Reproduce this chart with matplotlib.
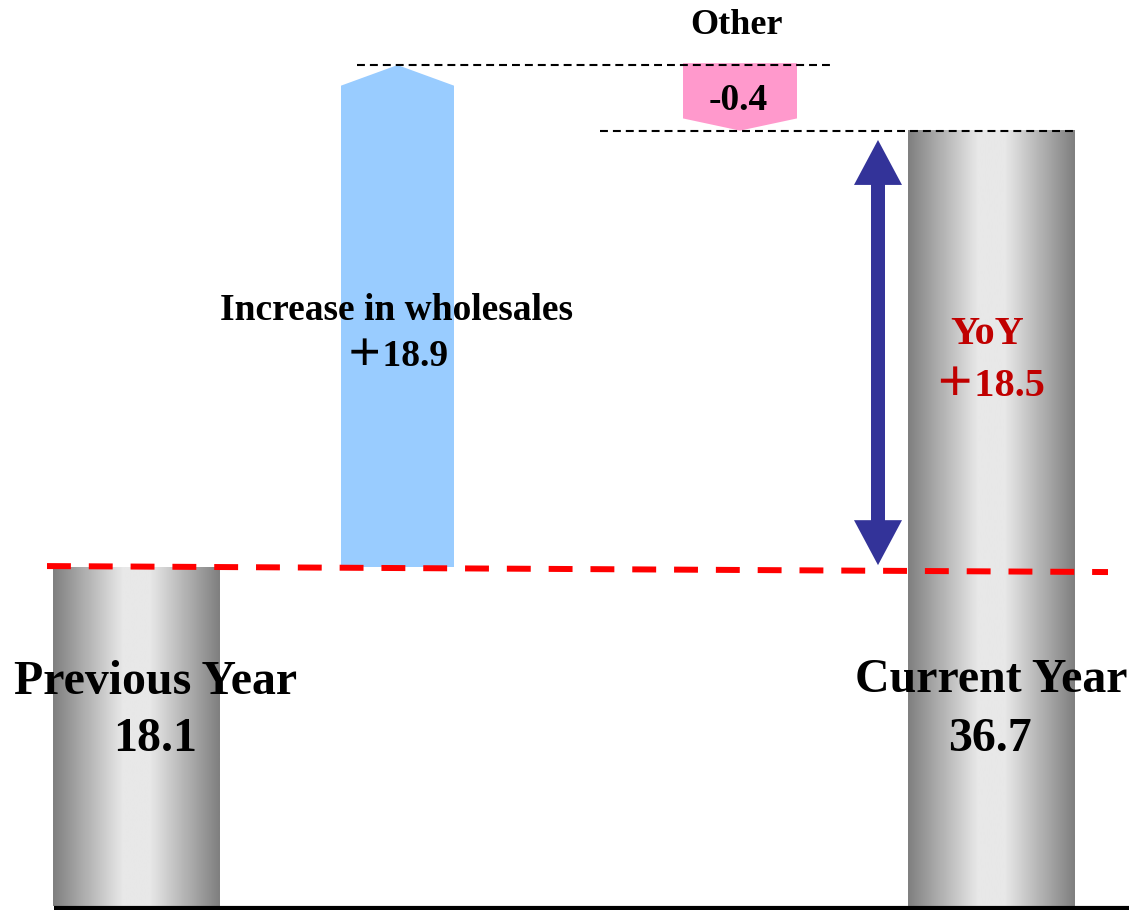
import numpy as np
import matplotlib
matplotlib.use("Agg")
import matplotlib.pyplot as plt
from matplotlib.patches import Polygon

# values shown on the chart
prev_value = 18.1
wholesale_change = 18.9
other_change = -0.4
current_value = 36.7
yoy_change = 18.5

# the picture is schematic, so the drawn heights are read off it
# (in the units of the previous-year bar)
drawn_peak = 44.9      # tip of the wholesale arrow / top dashed line
drawn_current = 41.4   # top of current-year bar / tip of "Other"

# layout (pixels of a 1129x910 canvas)
W, H = 1129, 910
BASE_PX = 906
SCALE = (BASE_PX - 567) / prev_value   # px per unit

fonts = ["Liberation Serif", "Noto Sans CJK JP", "DejaVu Serif"]

fig = plt.figure(figsize=(W / 100, H / 100), dpi=100)
ax = fig.add_axes([0, 0, 1, 1])
ax.set_xlim(0, W)
ax.set_ylim(-(H - BASE_PX) / SCALE, BASE_PX / SCALE)
ax.axis("off")

# gray cylinder-like gradient for the two totals
t = np.linspace(0, 1, 256)
shade = np.interp(t, [0, 0.42, 0.58, 1], [0.50, 0.91, 0.91, 0.50])
grad = shade[np.newaxis, :]
for x0, x1, top in [(53, 220, prev_value), (908, 1075, drawn_current)]:
    ax.imshow(grad, cmap="gray", vmin=0, vmax=1, aspect="auto",
              extent=[x0, x1, 0, top], zorder=2, interpolation="bilinear")

# wholesale increase arrow (blue, pointing up)
bx0, bx1 = 341, 454
blue = Polygon([(bx0, prev_value), (bx0, drawn_peak - 1.1),
                ((bx0 + bx1) / 2, drawn_peak), (bx1, drawn_peak - 1.1),
                (bx1, prev_value)], closed=True, color="#99ccff", lw=0, zorder=2)
ax.add_patch(blue)

# other change (pink, pointing down)
px0, px1 = 683, 797
pink = Polygon([(px0, drawn_peak + 0.1), (px1, drawn_peak + 0.1),
                (px1, drawn_current + 0.65), ((px0 + px1) / 2, drawn_current),
                (px0, drawn_current + 0.65)], closed=True, color="#ff99cc",
               lw=0, zorder=2)
ax.add_patch(pink)

# black dashed guide lines
ax.plot([357, 833], [drawn_peak, drawn_peak], color="black", lw=1.5,
        dashes=(3.8, 2.4), zorder=3)
ax.plot([600, 1075], [drawn_current, drawn_current], color="black", lw=1.5,
        dashes=(3.8, 2.4), zorder=3)

# red dashed line at previous-year level
ax.plot([47, 1108], [prev_value + 0.05, prev_value - 0.27], color="red",
        lw=4.3, dashes=(4.0, 3.0), zorder=4)

# baseline
ax.plot([54, W], [-2 / SCALE, -2 / SCALE], color="black", lw=3, zorder=5,
        solid_capstyle="butt")

# YoY double arrow, one polygon
ax_x = 878
y_lo, y_hi = prev_value + 0.1, drawn_current - 0.5
half_shaft, half_head, head_len = 7, 24, 2.4
ax.add_patch(Polygon([
    (ax_x, y_hi), (ax_x + half_head, y_hi - head_len),
    (ax_x + half_shaft, y_hi - head_len), (ax_x + half_shaft, y_lo + head_len),
    (ax_x + half_head, y_lo + head_len), (ax_x, y_lo),
    (ax_x - half_head, y_lo + head_len), (ax_x - half_shaft, y_lo + head_len),
    (ax_x - half_shaft, y_hi - head_len), (ax_x - half_head, y_hi - head_len)],
    closed=True, color="#333399", lw=0, zorder=3))


def label(x, y, s, size, color="black"):
    fig.text(x / W, 1 - (y + 4) / H, s, ha="center", va="center",
             fontsize=size, fontweight="bold", color=color, family=fonts)


label(736, 22, "Other", 26)
label(738, 96, f"{other_change:.1f}", 27)
label(397, 307, "Increase in wholesales", 27)
label(397, 352, f"＋{wholesale_change:.1f}", 27)
label(987, 330, "YoY", 29, "#c00000")
label(990, 382, f"＋{yoy_change:.1f}", 29, "#c00000")
label(156, 678, "Previous Year", 34.5)
label(155, 735, f"{prev_value:.1f}", 34.5)
label(991, 676, "Current Year", 34.5)
label(990, 735, f"{current_value:.1f}", 34.5)

fig.savefig("out.png", dpi=100)
